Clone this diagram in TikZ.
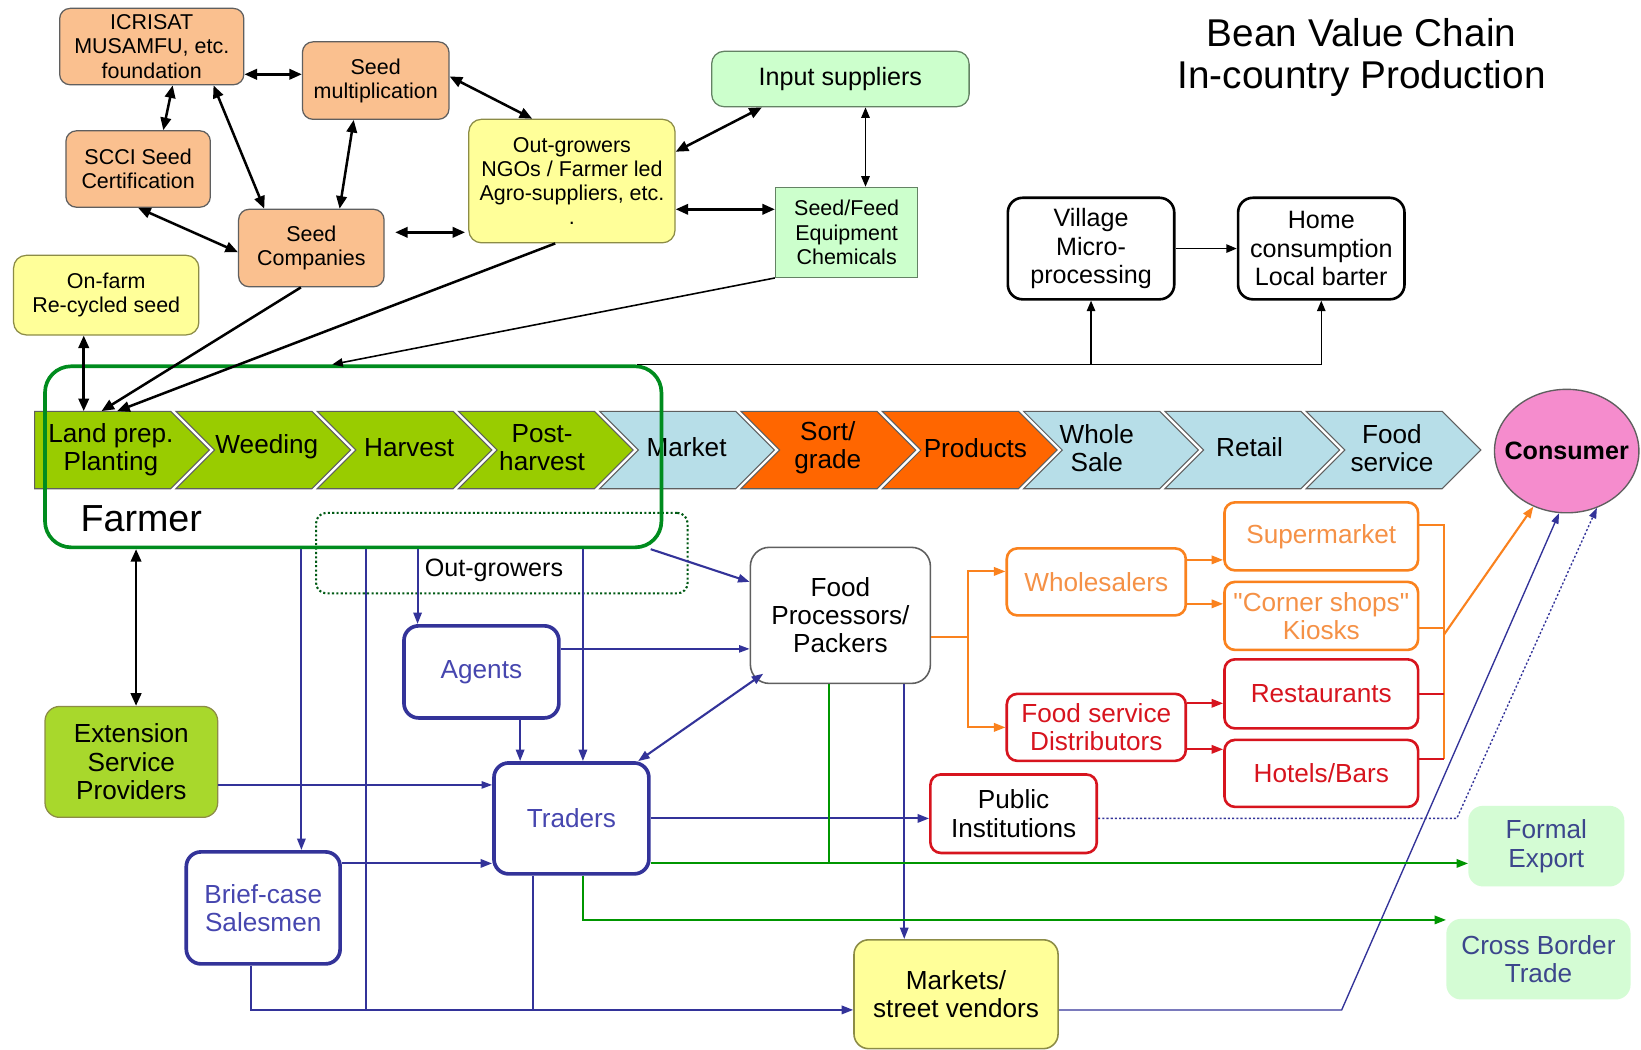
\documentclass[tikz,border=0pt]{standalone}
\usepackage{fontspec}
\setmainfont{Liberation Sans}
% same face without TeX ligature mapping, for straight quotation marks
\newfontfamily\plainsans{Liberation Sans}
\usetikzlibrary{arrows.meta,shapes.geometric,calc}

\definecolor{peach}{RGB}{250,192,143}
\definecolor{paleyellow}{RGB}{255,255,153}
\definecolor{palegreen}{RGB}{204,255,204}
\definecolor{exportgreen}{RGB}{212,252,212}
\definecolor{chaingreen}{RGB}{153,204,0}
\definecolor{extgreen}{RGB}{168,216,44}
\definecolor{chainblue}{RGB}{183,222,232}
\definecolor{chainorange}{RGB}{255,102,0}
\definecolor{consumerpink}{RGB}{245,140,205}
\definecolor{linkblue}{RGB}{51,51,153}
\definecolor{textblue}{RGB}{70,70,175}
\definecolor{slate}{RGB}{60,70,140}
\definecolor{linkgreen}{RGB}{0,150,0}
\definecolor{farmergreen}{RGB}{0,140,30}
\definecolor{zonegreen}{RGB}{0,90,20}
\definecolor{orangeline}{RGB}{250,130,30}
\definecolor{orangetext}{RGB}{245,145,70}
\definecolor{redline}{RGB}{215,20,30}
\definecolor{edgegray}{RGB}{95,95,95}
\definecolor{yellowedge}{RGB}{140,140,70}
\definecolor{greenedge}{RGB}{100,130,100}

\newcommand\boxsmall{\fontsize{20.5}{23}\selectfont}
\newcommand\boxbody{\fontsize{25}{27}\selectfont}

\begin{document}
\begin{tikzpicture}[x=1pt,y=-1pt,
  every node/.style={inner sep=0pt, align=center},
  >={Triangle[length=12pt,width=10pt]},
  seedbox/.style={draw=edgegray, line width=1.2pt, fill=peach, rounded corners=10pt, font=\boxsmall},
  yellowsmall/.style={draw=yellowedge, line width=1.2pt, fill=paleyellow, rounded corners=12pt, font=\boxsmall},
  inputbox/.style={draw=greenedge, line width=1.2pt, fill=palegreen, rounded corners=12pt, font=\fontsize{24}{26}\selectfont},
  supplybox/.style={draw=greenedge, line width=1.2pt, fill=palegreen, font=\boxsmall},
  localbox/.style={draw=black, line width=2.5pt, rounded corners=14pt, font=\fontsize{24}{27}\selectfont},
  chaintext/.style={font=\boxbody},
  bluebox/.style={draw=linkblue, line width=3.5pt, rounded corners=14pt, text=textblue, font=\boxbody},
  extbox/.style={draw=yellowedge, line width=1.2pt, fill=extgreen, rounded corners=14pt, font=\boxbody},
  procbox/.style={draw=edgegray, line width=1.5pt, rounded corners=18pt, fill=white, font=\boxbody},
  orangebox/.style={draw=orangeline, line width=2.5pt, rounded corners=10pt, text=orangetext, font=\boxbody},
  redbox/.style={draw=redline, line width=2.5pt, rounded corners=10pt, text=redline, font=\boxbody},
  exportbox/.style={fill=exportgreen, rounded corners=14pt, text=slate, font=\boxbody},
  marketbox/.style={draw=yellowedge, line width=1.5pt, fill=paleyellow, rounded corners=14pt, font=\boxbody},
  link/.style={line width=2.4pt, black},
  thinlink/.style={line width=1.5pt, black, >={Triangle[length=10pt,width=8pt]}},
  bl/.style={draw=linkblue, line width=2pt, >={Triangle[length=11pt,width=8pt]}},
  blthin/.style={draw=linkblue, line width=1.3pt, >={Triangle[length=10pt,width=7pt]}},
  gr/.style={draw=linkgreen, line width=2pt, >={Triangle[length=11pt,width=8pt]}},
  orl/.style={draw=orangeline, line width=2pt, >={Triangle[length=11pt,width=8pt]}},
  rdl/.style={draw=redline, line width=2pt, >={Triangle[length=11pt,width=8pt]}},
]
\useasboundingbox (0,0) rectangle (1568,1003);
\fill[white] (0,0) rectangle (1568,1003);

% ---------- title ----------
\node[font=\fontsize{37}{40}\selectfont] (title) at (1301,55) {Bean Value Chain\\In-country Production};

% ---------- seed system ----------
\node[seedbox, minimum width=176, minimum height=73] (icrisat) at (145,44.5) {ICRISAT\\MUSAMFU, etc.\\foundation};
\node[seedbox, minimum width=140, minimum height=74] (seedmult) at (359,77) {Seed\\multiplication};
\node[seedbox, minimum width=138, minimum height=73] (scci) at (132,161.5) {SCCI Seed\\Certification};
\node[seedbox, minimum width=139, minimum height=74] (seedco) at (297.5,237) {Seed\\Companies};
\node[yellowsmall, minimum width=177, minimum height=76] (onfarm) at (101.5,282) {On-farm\\Re-cycled seed};
\node[yellowsmall, minimum width=197, minimum height=118] (outgrow) at (546.5,173) {Out-growers\\NGOs / Farmer led\\Agro-suppliers, etc.\\.};
\node[inputbox, minimum width=246, minimum height=53] (input) at (803,75.5) {Input suppliers};
\node[supplybox, minimum width=136, minimum height=86] (seedfeed) at (809,222) {Seed/Feed\\Equipment\\Chemicals};
\node[localbox, minimum width=159, minimum height=97] (village) at (1042.5,237.5) {Village\\Micro-\\processing};
\node[localbox, minimum width=159, minimum height=97] (home) at (1262.5,237.5) {Home\\consumption\\Local barter};

% ---------- value chain chevrons ----------
\foreach \i/\c in {0/chaingreen,1/chaingreen,2/chaingreen,3/chaingreen,4/chainblue,5/chainorange,6/chainorange,7/chainblue,8/chainblue,9/chainblue}{
  \pgfmathsetmacro\xa{33+135*\i}
  \ifnum\i=0
    \filldraw[fill=\c, draw=edgegray, line width=1pt] (\xa,393) -- ++(130,0) -- ++(37,37) -- ++(-37,37) -- ++(-130,0) -- cycle;
  \else
    \filldraw[fill=\c, draw=edgegray, line width=1pt] (\xa,393) -- ++(130,0) -- ++(37,37) -- ++(-37,37) -- ++(-130,0) -- ++(37,-37) -- cycle;
  \fi
}
\node[chaintext, minimum width=146, minimum height=74] (landprep) at (106,430) {Land prep.\\Planting};
\node[chaintext] (weeding) at (255,427) {Weeding};
\node[chaintext] (harvest) at (391,428) {Harvest};
\node[chaintext] (postharvest) at (518,428) {Post-\\harvest};
\node[chaintext] (market) at (656,427) {Market};
\node[chaintext] (sortgrade) at (791,428) {Sort/\\grade};
\node[chaintext] (products) at (932,428) {Products};
\node[chaintext] (wholesale) at (1048,428) {Whole\\Sale};
\node[chaintext] (retail) at (1194,427) {Retail};
\node[chaintext] (foodservice) at (1330,428) {Food\\service};
\node[ellipse, draw=edgegray, line width=1.3pt, fill=consumerpink, minimum width=138, minimum height=118] (consumer) at (1497,431) {};
\node[font=\bfseries\fontsize{24}{26}\selectfont] (consumerlabel) at (consumer.center) {Consumer};

% ---------- farmer group ----------
\node[draw=zonegreen, line width=2pt, dash pattern=on 2pt off 2.2pt, rounded corners=10pt, minimum width=355, minimum height=77] (outzone) at (479.5,528.5) {};
\node[font=\fontsize{24}{26}\selectfont] (outlabel) at (472,545) {Out-growers};
\node[draw=farmergreen, line width=3.5pt, rounded corners=25pt, minimum width=589, minimum height=173] (farmer) at (337.5,436.5) {};
\node[font=\fontsize{36}{38}\selectfont] (farmerlabel) at (135,496) {Farmer};

% ---------- downstream actors ----------
\node[bluebox, minimum width=148, minimum height=88] (agents) at (460,642) {Agents};
\node[bluebox, minimum width=148, minimum height=106] (traders) at (546,782) {Traders};
\node[bluebox, minimum width=147, minimum height=107] (brief) at (251.5,867.5) {Brief-case\\Salesmen};
\node[extbox, minimum width=165, minimum height=106] (extension) at (125.5,728) {Extension\\Service\\Providers};
\node[procbox, minimum width=172, minimum height=130] (foodproc) at (803,588) {Food\\Processors/\\Packers};
\node[orangebox, minimum width=171, minimum height=64] (wholesalers) at (1047.5,556) {Wholesalers};
\node[orangebox, minimum width=185, minimum height=65] (supermarket) at (1262.5,512.5) {Supermarket};
\node[orangebox, minimum width=185, minimum height=65] (corner) at (1262.5,588.5) {{\plainsans"Corner shops"}\\Kiosks};
\node[redbox, minimum width=185, minimum height=66] (restaurants) at (1262.5,663) {Restaurants};
\node[redbox, minimum width=185, minimum height=64] (hotels) at (1262.5,739) {Hotels/Bars};
\node[redbox, minimum width=171, minimum height=64] (fsdist) at (1047.5,695) {Food service\\Distributors};
\node[redbox, text=black, minimum width=159, minimum height=75, font=\fontsize{25}{28.5}\selectfont] (public) at (968.5,777.5) {Public\\Institutions};
\node[exportbox, minimum width=149, minimum height=77] (formal) at (1477.5,808.5) {Formal\\Export};
\node[exportbox, minimum width=176, minimum height=77] (cross) at (1470,916.5) {Cross Border\\Trade};
\node[marketbox, minimum width=195, minimum height=104] (markets) at (913.5,950) {Markets/\\street vendors};

% junction points of the routed connectors
\coordinate (split) at (925,609);
\coordinate (gather) at (1380,606);
\coordinate (mkturn) at (1282,965);
\coordinate (pubturn) at (1392,782);

% ---------- seed system links ----------
\draw[link,<->] (icrisat.east |- 0,71) -- (seedmult.west |- 0,71);
\draw[link,<->] ($(icrisat.south)+(20,0)$) -- ($(scci.north)+(24,0)$);
\draw[link,<->] ($(icrisat.south)+(59,0)$) -- ($(seedco.north)+(-45,0)$);
\draw[link,<->] ($(seedmult.south)+(-21,0)$) -- ($(seedco.north)+(27,0)$);
\draw[link,<->] ($(seedmult.east)+(0,-4)$) -- ($(outgrow.north)+(-38,0)$);
\draw[link,<->] (scci.south) -- ($(seedco.west)+(0,4)$);
\draw[link,<->] ($(seedco.east)+(10,-15)$) -- ($(outgrow.west)+(-3,49)$);
\draw[link,<->] ($(outgrow.east)+(0,-28)$) -- ($(input.south)+(-75,0)$);
\draw[thinlink,<->] ($(input.south)+(24,0)$) -- ($(seedfeed.north)+(18,0)$);
\draw[link,<->] ($(outgrow.east)+(0,27)$) -- (seedfeed.west |- 0,200);

% ---------- inputs reaching the farm ----------
\draw[link,<->] ($(onfarm.south)+(-21.5,0)$) -- ($(landprep.north)+(-26,0)$);
\draw[link,->] ($(seedco.south)+(-10,0)$) -- ($(landprep.north)+(-9,0)$);
\draw[link,->] ($(outgrow.south)+(-16,0)$) -- ($(landprep.north)+(6,0)$);
\draw[thinlink,->] (seedfeed.south west) -- ($(farmer.north)+(-20,0)$);

% ---------- local use ----------
\draw[thinlink,->] ($(farmer.north east)+(-25,0)$) -- (home.south |- farmer.north) -- (home.south);
\draw[thinlink,->] (village.south |- farmer.north) -- (village.south);
\draw[thinlink,->] (village.east) -- (home.west);

% ---------- farmer and extension ----------
\draw[link,<->] (farmer.south -| 130,0) -- (extension.north -| 130,0);

% ---------- trade flows ----------
\draw[bl,->] (farmer.south -| 288,0) -- (brief.north -| 288,0);
\draw[bl] (farmer.south -| 350,0) -- (350,965);
\draw[bl,->] (farmer.south -| 399,0) -- (agents.north -| 399,0);
\draw[bl,->] (farmer.south -| 557,0) -- (traders.north -| 557,0);
\draw[bl,->] (agents.south -| 497,0) -- (traders.north -| 497,0);
\draw[bl,->] ($(farmer.south east)+(-12,0)$) -- (foodproc.west |- 0,556);
\draw[blthin,->] (agents.east |- 0,620) -- (foodproc.west |- 0,620);
\draw[bl,<->] ($(traders.north east)+(-12,0)$) -- ($(foodproc.south west)+(13,-10)$);
\draw[blthin,->] (extension.east |- 0,750) -- (traders.west |- 0,750);
\draw[bl,->] (brief.east |- 0,825) -- (traders.west |- 0,825);
\draw[bl,->] (traders.east) -- (public.west |- traders.east);
\draw[bl,->] (brief.south -| 240,0) |- (markets.west |- 0,965);
\draw[bl] (traders.south -| 509,0) -- (509,965);
\draw[bl,->] (foodproc.south -| 864,0) -- (markets.north -| 864,0);
\draw[blthin,->] (markets.east |- mkturn) -- (mkturn) -- (consumer.-97);
\draw[blthin,->, dash pattern=on 2pt off 2pt] (public.east |- pubturn) -- (pubturn) -- (consumer.-62);

% ---------- exports ----------
\draw[gr,->] (traders.east |- 0,825) -- (formal.west |- 0,825);
\draw[gr] (foodproc.south -| 792,0) -- (792,825);
\draw[gr,->] (traders.south -| 557,0) |- (cross.west |- 0,879);

% ---------- processed-product distribution ----------
\draw[orl] (foodproc.east |- split) -- (split);
\draw[orl,->] (split) |- (wholesalers.west |- 0,546);
\draw[orl,->] (split) |- (fsdist.west);
\draw[orl,->] (wholesalers.east |- 0,535) -- (supermarket.west |- 0,535);
\draw[orl,->] (wholesalers.east |- 0,577) -- (corner.west |- 0,577);
\draw[rdl,->] (fsdist.east |- 0,672) -- (restaurants.west |- 0,672);
\draw[rdl,->] (fsdist.east |- 0,716) -- (hotels.west |- 0,716);
\draw[orl] (supermarket.east |- 0,502) -- (1380,502) -- (1380,725);
\draw[orl] (corner.east |- 0,600) -- (1380,600);
\draw[rdl] (restaurants.east |- 0,663) -- (1380,663);
\draw[rdl] (hotels.east |- 0,725) -- (1380,725);
\draw[orl,->] (gather) -- (consumer.-121);
\end{tikzpicture}
\end{document}
